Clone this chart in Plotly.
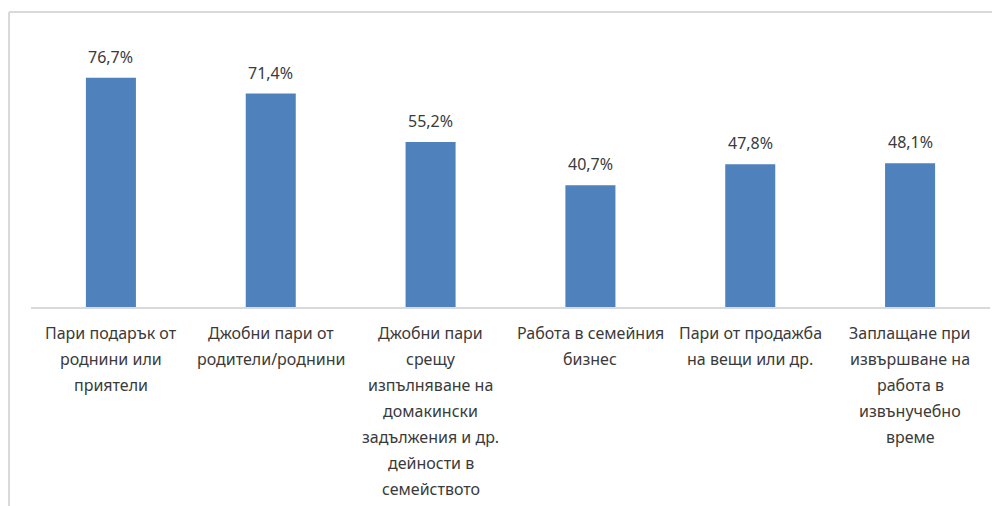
import plotly.graph_objects as go

categories = [
    "Пари подарък от<br>роднини или<br>приятели",
    "Джобни пари от<br>родители/роднини",
    "Джобни пари<br>срещу<br>изпълняване на<br>домакински<br>задължения и др.<br>дейности в<br>семейството",
    "Работа в семейния<br>бизнес",
    "Пари от продажба<br>на вещи или др.",
    "Заплащане при<br>извършване на<br>работа в<br>извънучебно<br>време",
]
values = [76.7, 71.4, 55.2, 40.7, 47.8, 48.1]
value_labels = ["76,7%", "71,4%", "55,2%", "40,7%", "47,8%", "48,1%"]

FONT = "Noto Sans"
TXT = "#3a3a3a"
xs = list(range(len(categories)))

fig = go.Figure()
fig.add_trace(go.Bar(
    x=xs, y=values, marker=dict(color="#4f81bd", line=dict(width=0)),
    hoverinfo="skip", width=0.313,
))

annotations = []
for x, v, lab in zip(xs, values, value_labels):
    annotations.append(dict(x=x, y=v, xref="x", yref="y", text=lab, showarrow=False,
                            yanchor="middle", yshift=21,
                            font=dict(family=FONT, size=16, color=TXT)))
for x, cat in zip(xs, categories):
    for i, line in enumerate(cat.split("<br>")):
        annotations.append(dict(x=x, y=0, xref="x", yref="paper", text=line, showarrow=False,
                                yanchor="middle", yshift=-(26 + 26 * i),
                                font=dict(family=FONT, size=16, color=TXT)))

fig.update_layout(
    width=1000, height=506,
    margin=dict(l=23, r=18, t=30, b=207),
    paper_bgcolor="white", plot_bgcolor="white",
    showlegend=False,
    xaxis=dict(range=[-0.5, len(categories) - 0.5], showticklabels=False, showgrid=False,
               zeroline=False, showline=True, linecolor="#d9d9d9", linewidth=1.5, ticks=""),
    yaxis=dict(range=[0, 90], visible=False),
    annotations=annotations,
    shapes=[
        dict(type="line", xref="paper", yref="paper", x0=-0.0229, x1=-0.0229, y0=-1, y1=1.097,
             line=dict(color="#d9d9d9", width=2)),
        dict(type="line", xref="paper", yref="paper", x0=-0.0229, x1=1.05, y0=1.097, y1=1.097,
             line=dict(color="#d9d9d9", width=2)),
    ],
)

fig.write_html("out.html")
